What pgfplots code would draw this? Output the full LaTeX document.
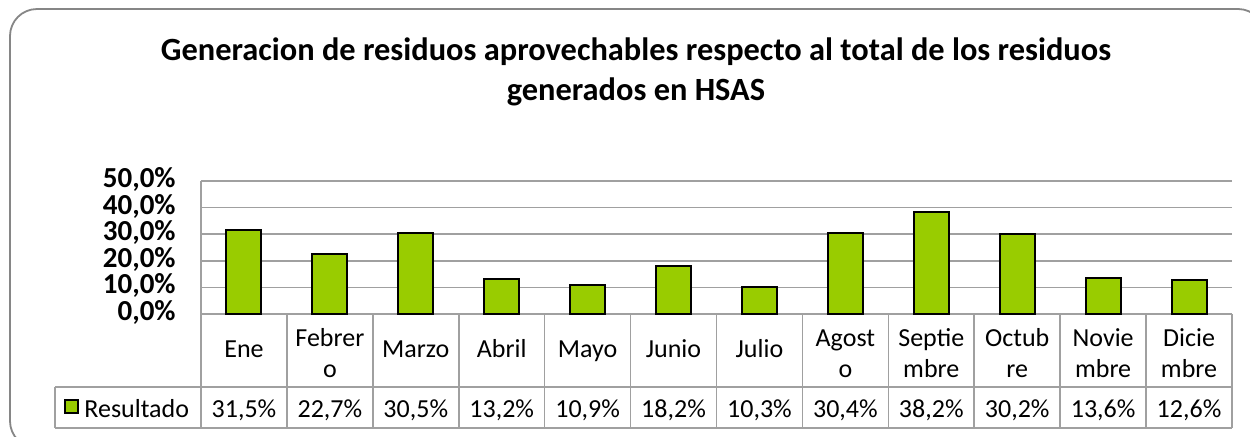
\documentclass[border=0pt]{standalone}
\usepackage{pgfplots}
\pgfplotsset{compat=1.18}
\usepackage{fontspec}
\setmainfont{Carlito}
\definecolor{bargreen}{RGB}{153,204,0}
\definecolor{tblgray}{RGB}{160,160,160}
\definecolor{framegray}{RGB}{134,134,134}
\begin{document}
\begin{tikzpicture}[x=0.5pt,y=0.5pt]
\useasboundingbox (0,0) rectangle (1250,436);
\begin{scope}
\clip (0,0) rectangle (1250,436);
\draw[framegray, line width=0.9pt, rounded corners=13.5pt] (10,427) rectangle (1265,-12);
\end{scope}
\node[font=\bfseries\fontsize{16.2}{19}\selectfont, anchor=base] at (636,376) {Generacion de residuos aprovechables respecto al total de los residuos};
\node[font=\bfseries\fontsize{16.2}{19}\selectfont, anchor=base] at (636,336) {generados en HSAS};
\begin{axis}[at={(100.5pt,61pt)}, anchor=south west,
  width=515.5pt, height=66.5pt, scale only axis,
  xmin=-0.5, xmax=11.5, ymin=0, ymax=50,
  ytick={0,10,20,30,40,50},
  yticklabels={{0,0\%},{10,0\%},{20,0\%},{30,0\%},{40,0\%},{50,0\%}},
  yticklabel style={font=\bfseries\fontsize{14.5}{16}\selectfont, anchor=east, inner xsep=0pt, xshift=-12.5pt},
  xtick={0,...,11},
  xticklabels={Ene,{Febrer\\o},Marzo,Abril,Mayo,Junio,Julio,{Agost\\o},{Septie\\mbre},{Octub\\re},{Novie\\mbre},{Dicie\\mbre}},
  typeset ticklabels with strut,
  xticklabel style={anchor=center, yshift=-18.75pt, align=center, font=\fontsize{13}{15.5}\selectfont},
  major tick length=0pt,
  ymajorgrids, grid style={tblgray, line width=0.8pt},
  axis x line*=bottom, axis y line*=left,
  axis line style={tblgray, line width=0.8pt, -},
  ybar, bar width=17.5pt, clip=false]
\addplot[fill=bargreen, draw=black, line width=1pt] coordinates {
(0,31.5) (1,22.7) (2,30.5) (3,13.2) (4,10.9) (5,18.2)
(6,10.3) (7,30.4) (8,38.2) (9,30.2) (10,13.6) (11,12.6)};
\end{axis}
\foreach \k in {0,...,12} \draw[tblgray, line width=0.8pt] ({201+85.9167*\k},122) -- ({201+85.9167*\k},8);
\draw[tblgray, line width=0.8pt] (55,49) -- (1232,49);
\draw[tblgray, line width=0.8pt] (55,8) -- (1232,8);
\draw[tblgray, line width=0.8pt] (55,49) -- (55,8);
\draw[black, fill=bargreen, line width=0.8pt] (65,36) rectangle (78,23);
\node[anchor=base west, inner sep=0pt, font=\fontsize{13}{15}\selectfont] at (84,19) {Resultado};
\foreach \i/\t in {0/{31,5\%},1/{22,7\%},2/{30,5\%},3/{13,2\%},4/{10,9\%},5/{18,2\%},6/{10,3\%},7/{30,4\%},8/{38,2\%},9/{30,2\%},10/{13,6\%},11/{12,6\%}}
  \node[anchor=base, inner sep=0pt, font=\fontsize{13}{15}\selectfont] at ({201+85.9167*(\i+0.5)},19) {\t};
\end{tikzpicture}
\end{document}
